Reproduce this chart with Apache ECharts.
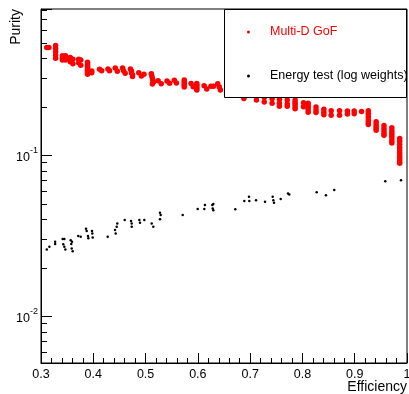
<!DOCTYPE html>
<html>
<head>
<meta charset="utf-8">
<script src="https://cdn.jsdelivr.net/npm/echarts@6/dist/echarts.min.js"></script>
<style>
  html, body { margin: 0; padding: 0; background: #fff; }
  #chart { width: 409px; height: 394px; }
</style>
</head>
<body>
<div id="chart"></div>
<script>
const FONT = "Liberation Sans, Arial, Helvetica, sans-serif";

// [efficiency, purity]
const gofPoints = [
  [0.311, 0.466], [0.315, 0.466],
  [0.328, 0.48], [0.328, 0.46], [0.328, 0.44], [0.328, 0.42], [0.328, 0.40],
  [0.341, 0.415], [0.341, 0.40], [0.341, 0.39], [0.347, 0.415], [0.347, 0.39],
  [0.356, 0.405], [0.356, 0.39], [0.356, 0.38], [0.361, 0.395], [0.361, 0.37],
  [0.372, 0.395], [0.372, 0.375], [0.376, 0.39], [0.376, 0.362],
  [0.389, 0.378], [0.389, 0.368], [0.389, 0.36], [0.389, 0.352], [0.389, 0.345],
  [0.389, 0.337], [0.389, 0.33], [0.389, 0.324], [0.389, 0.318],
  [0.397, 0.333], [0.397, 0.325],
  [0.412, 0.342], [0.416, 0.335],
  [0.428, 0.343], [0.431, 0.335],
  [0.442, 0.348], [0.446, 0.332],
  [0.456, 0.348], [0.458, 0.335], [0.461, 0.323],
  [0.471, 0.343], [0.473, 0.333], [0.473, 0.325], [0.475, 0.316], [0.475, 0.308],
  [0.487, 0.325], [0.492, 0.31], [0.497, 0.318],
  [0.511, 0.32], [0.512, 0.31], [0.513, 0.3], [0.514, 0.292], [0.515, 0.285], [0.513, 0.277],
  [0.524, 0.29], [0.53, 0.278],
  [0.541, 0.289], [0.546, 0.28],
  [0.555, 0.292], [0.559, 0.281],
  [0.574, 0.293], [0.574, 0.285], [0.574, 0.278], [0.574, 0.271], [0.574, 0.265],
  [0.587, 0.279], [0.591, 0.266],
  [0.598, 0.279], [0.598, 0.272], [0.598, 0.265], [0.598, 0.259], [0.598, 0.254],
  [0.612, 0.27], [0.617, 0.258],
  [0.625, 0.268], [0.63, 0.268],
  [0.638, 0.278], [0.641, 0.265], [0.643, 0.254],
  [0.66, 0.258], [0.66, 0.248],
  [0.673, 0.25], [0.673, 0.24],
  [0.688, 0.235], [0.688, 0.225],
  [0.712, 0.232], [0.712, 0.22],
  [0.727, 0.228], [0.727, 0.214],
  [0.742, 0.224], [0.742, 0.21],
  [0.756, 0.222], [0.756, 0.21], [0.756, 0.201],
  [0.771, 0.22], [0.771, 0.208], [0.771, 0.201],
  [0.786, 0.22], [0.786, 0.213], [0.786, 0.207], [0.786, 0.2], [0.786, 0.194],
  [0.802, 0.212], [0.802, 0.2],
  [0.811, 0.21], [0.811, 0.203], [0.811, 0.197], [0.811, 0.191], [0.811, 0.185],
  [0.826, 0.199], [0.826, 0.191], [0.826, 0.184],
  [0.841, 0.193], [0.841, 0.185], [0.841, 0.178],
  [0.855, 0.189], [0.855, 0.177],
  [0.871, 0.189], [0.871, 0.177],
  [0.886, 0.188], [0.886, 0.18],
  [0.899, 0.188], [0.899, 0.181],
  [0.913, 0.187],
  [0.926, 0.189], [0.926, 0.182], [0.926, 0.176], [0.926, 0.17], [0.926, 0.164],
  [0.926, 0.159], [0.926, 0.155],
  [0.941, 0.161], [0.941, 0.156], [0.941, 0.151], [0.941, 0.147], [0.941, 0.143],
  [0.956, 0.153], [0.956, 0.147], [0.956, 0.142], [0.956, 0.137], [0.956, 0.133],
  [0.971, 0.148], [0.971, 0.142], [0.971, 0.137], [0.971, 0.132], [0.971, 0.128],
  [0.971, 0.123], [0.971, 0.119],
  [0.986, 0.127], [0.986, 0.122], [0.986, 0.117], [0.986, 0.112], [0.986, 0.108],
  [0.986, 0.104], [0.986, 0.1], [0.986, 0.097], [0.986, 0.094], [0.986, 0.091], [0.986, 0.089]
];

const energyPoints = [
  [0.311, 0.0259], [0.316, 0.0269],
  [0.327, 0.0289], [0.327, 0.0280],
  [0.3415, 0.0301], [0.3446, 0.0301], [0.3426, 0.0279], [0.3446, 0.0269], [0.3465, 0.0259],
  [0.3568, 0.0296], [0.3593, 0.0289], [0.3579, 0.028], [0.3587, 0.0263], [0.3606, 0.0253],
  [0.3713, 0.0314], [0.3759, 0.0311],
  [0.3861, 0.0349], [0.3874, 0.0337], [0.3899, 0.0314], [0.3905, 0.0304],
  [0.3975, 0.0337], [0.3981, 0.0326], [0.3989, 0.0308],
  [0.4276, 0.0311],
  [0.4415, 0.0342], [0.4429, 0.0326], [0.4448, 0.0359], [0.4459, 0.0376],
  [0.4601, 0.0395], [0.4721, 0.0389], [0.4735, 0.0376], [0.4735, 0.0359],
  [0.488, 0.0395], [0.4893, 0.038], [0.4976, 0.0395],
  [0.5117, 0.0376], [0.5148, 0.0359],
  [0.5276, 0.0438], [0.5289, 0.0424], [0.5276, 0.0399],
  [0.571, 0.0424],
  [0.5997, 0.0462], [0.6123, 0.0462], [0.6136, 0.0489],
  [0.6276, 0.0489], [0.6284, 0.0466], [0.6295, 0.0455], [0.6295, 0.0496],
  [0.6716, 0.046],
  [0.6888, 0.0518], [0.6978, 0.0551], [0.6984, 0.0518], [0.7112, 0.0525],
  [0.7284, 0.0513], [0.7431, 0.0551], [0.7443, 0.0525], [0.7456, 0.0505], [0.7584, 0.0533],
  [0.7724, 0.0578], [0.7749, 0.057],
  [0.8273, 0.0587], [0.845, 0.0564], [0.8609, 0.0606],
  [0.9584, 0.0689], [0.9885, 0.0699]
];

const xMin = 0.3, xMax = 1.0, xStep = 0.1;
const yMin = 0.0051, yMax = 0.81;
const yMinorTicks = [
  0.006, 0.007, 0.008, 0.009,
  0.02, 0.03, 0.04, 0.05, 0.06, 0.07, 0.08, 0.09,
  0.2, 0.3, 0.4, 0.5, 0.6, 0.7, 0.8
];

const chart = echarts.init(document.getElementById("chart"));

chart.setOption({
  animation: false,
  textStyle: { fontFamily: FONT },
  grid: {
    left: 41, right: 2, top: 9, bottom: 31,
    containLabel: false,
    outerBoundsMode: "none",
    show: true, borderColor: "#000", borderWidth: 1
  },
  xAxis: {
    type: "value",
    min: xMin, max: xMax, interval: xStep,
    axisLine: { lineStyle: { color: "#000" } },
    axisTick: { inside: true, length: 10, lineStyle: { color: "#000" } },
    minorTick: { show: true, splitNumber: 5, length: 5, lineStyle: { color: "#000" } },
    splitLine: { show: false },
    axisLabel: {
      color: "#000", fontSize: 12.5, fontFamily: FONT, margin: 5,
      formatter: (v) => (Math.abs(v - 1) < 1e-9 ? "1" : v.toFixed(1))
    }
  },
  yAxis: {
    type: "log",
    logBase: 10,
    min: yMin, max: yMax,
    axisLine: { lineStyle: { color: "#000" } },
    axisTick: { inside: true, length: 11, lineStyle: { color: "#000" } },
    splitLine: { show: false },
    axisLabel: {
      color: "#000", margin: 3,
      formatter: (v) => {
        const e = Math.log10(v);
        if (Math.abs(e - Math.round(e)) > 1e-6) return "";
        return "{b|10}{s|" + Math.round(e) + "}";
      },
      rich: {
        b: { fontSize: 12.5, fontFamily: FONT, color: "#000", lineHeight: 18, verticalAlign: "bottom" },
        s: { fontSize: 9, fontFamily: FONT, color: "#000", verticalAlign: "top" }
      }
    }
  },
  legend: {
    orient: "vertical",
    left: 247, top: 24,
    padding: 0,
    itemWidth: 3, itemHeight: 3,
    itemGap: 28,
    data: [
      { name: "Multi-D GoF", textStyle: { color: "#ff0000" } },
      { name: "Energy test (log weights)", textStyle: { color: "#000" } }
    ],
    textStyle: { fontFamily: FONT, fontSize: 12.5, lineHeight: 16, padding: [0, 0, 0, 15] }
  },
  graphic: [
    {
      type: "rect", z: 3,
      shape: { x: 224.5, y: 9.5, width: 182, height: 88 },
      style: { fill: "#fff", stroke: "#000", lineWidth: 1 }
    },
    {
      type: "text", z: 5,
      x: 23, y: 9, rotation: Math.PI / 2,
      style: { text: "Purity", font: "14px " + FONT, fill: "#000", align: "right", verticalAlign: "bottom" }
    },
    {
      type: "text", z: 5,
      x: 407, y: 380,
      style: { text: "Efficiency", font: "14px " + FONT, fill: "#000", align: "right", verticalAlign: "top" }
    }
  ],
  series: [
    {
      name: "Multi-D GoF",
      type: "scatter",
      symbol: "circle",
      symbolSize: 5.5,
      itemStyle: { color: "#ff0000", opacity: 1 },
      data: gofPoints
    },
    {
      name: "Energy test (log weights)",
      type: "scatter",
      symbol: "circle",
      symbolSize: 2.5,
      itemStyle: { color: "#000", opacity: 1 },
      data: energyPoints
    },
    {
      name: "yMinorTicks",
      type: "custom",
      silent: true,
      clip: false,
      data: yMinorTicks.map((v) => [xMin, v]),
      renderItem: (params, api) => {
        const p = api.coord([api.value(0), api.value(1)]);
        const y = Math.round(p[1]) + 0.5;
        return {
          type: "line",
          shape: { x1: p[0], y1: y, x2: p[0] + 6, y2: y },
          style: { stroke: "#000", lineWidth: 1 }
        };
      }
    }
  ]
});
</script>
</body>
</html>
